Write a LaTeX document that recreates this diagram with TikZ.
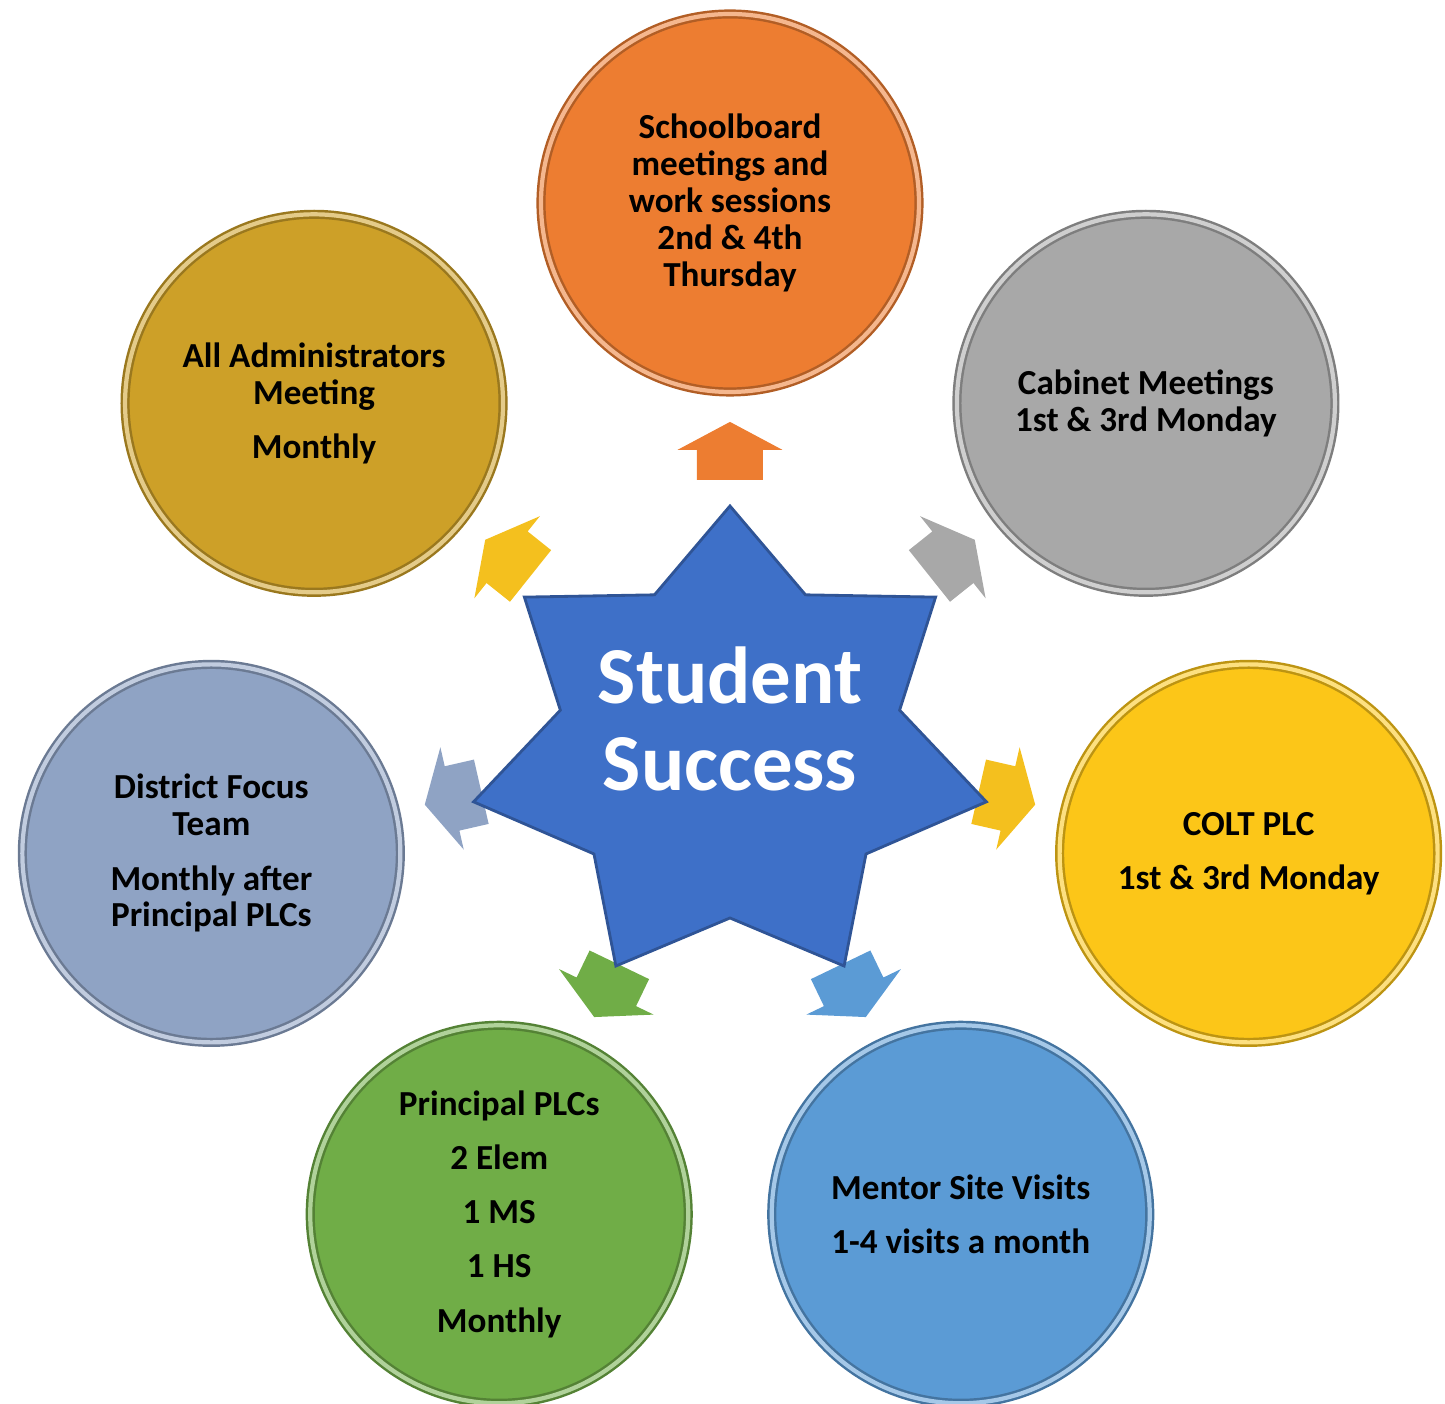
\documentclass[tikz,border=0pt]{standalone}
\usepackage{fontspec}
\setmainfont{Carlito}
\usetikzlibrary{calc}
\definecolor{cOrange}{RGB}{237,125,49}
\definecolor{cGold}{RGB}{205,160,40}
\definecolor{cGray}{RGB}{168,168,168}
\definecolor{cSlate}{RGB}{143,163,196}
\definecolor{cYellow}{RGB}{252,198,24}
\definecolor{cGreen}{RGB}{112,173,71}
\definecolor{cBlue}{RGB}{91,155,213}
\definecolor{cStar}{RGB}{62,112,200}
\definecolor{aYellow}{RGB}{244,192,30}
\tikzset{
  bubble/.style={circle, minimum size=3.78cm, inner sep=0pt, align=center,
    fill=#1, draw=#1!75!black, double=#1!55!white, double distance=1.2pt,
    line width=0.7pt, font=\fontsize{10}{10.5}\selectfont\bfseries},
  hubtext/.style={text=white, align=center, font=\fontsize{23}{25}\selectfont\bfseries},
  outarrow/.pic={\path[pic actions] (-0.29,-0.33) -- (0.01,-0.33) -- (0.01,-0.525)
    -- (0.29,0) -- (0.01,0.525) -- (0.01,0.33) -- (-0.29,0.33) -- cycle;}
}
\begin{document}
\begin{tikzpicture}
  \useasboundingbox (-7.30,-6.69) rectangle (7.15,7.35);
  \coordinate (core) at (0,0);

  \node[bubble=cOrange] (board) at (90:5.32)
  {Schoolboard\\meetings and\\work sessions\\2nd \& 4th\\Thursday};
  \node[bubble=cGold] (admin) at (141.43:5.32)
  {All Administrators\\Meeting\\[4.9pt]Monthly};
  \node[bubble=cGray] (cabinet) at (38.57:5.32)
  {Cabinet Meetings\\1st \& 3rd Monday};
  \node[bubble=cSlate] (focus) at (192.86:5.32)
  {District Focus\\Team\\[4.9pt]Monthly after\\Principal PLCs};
  \node[bubble=cYellow] (colt) at (-12.86:5.32)
  {COLT PLC\\[4.9pt]1st \& 3rd Monday};
  \node[bubble=cGreen] (plc) at (244.29:5.32)
  {Principal PLCs\\[4.9pt]2 Elem\\[4.9pt]1 MS\\[4.9pt]1 HS\\[4.9pt]Monthly};
  \node[bubble=cBlue] (mentor) at (-64.29:5.32)
  {Mentor Site Visits\\[4.9pt]1-4 visits a month};

  \pic[fill=cOrange, rotate=90] at ($(core)!0.534!(board)$) {outarrow};
  \pic[fill=aYellow, rotate=141.43] at ($(core)!0.534!(admin)$) {outarrow};
  \pic[fill=cGray, rotate=38.57] at ($(core)!0.534!(cabinet)$) {outarrow};
  \pic[fill=cSlate, rotate=192.86] at ($(core)!0.534!(focus)$) {outarrow};
  \pic[fill=aYellow, rotate=-12.86] at ($(core)!0.534!(colt)$) {outarrow};
  \pic[fill=cGreen, rotate=244.29] at ($(core)!0.534!(plc)$) {outarrow};
  \pic[fill=cBlue, rotate=-64.29] at ($(core)!0.534!(mentor)$) {outarrow};

  \begin{scope}[shift={(0,-0.13)}]
    \path[fill=cStar, draw=cStar!75!black, line width=0.8pt] (90:2.63cm and 2.42cm)
      \foreach \k [evaluate=\k as \rx using {isodd(\k) ? 1.74 : 2.63},
                   evaluate=\k as \ry using {isodd(\k) ? 1.70 : 2.42}] in {1,...,13}
      { -- ({90+\k*180/7}:\rx cm and \ry cm) } -- cycle;
  \end{scope}
  \node[hubtext] (hub) at (0,0.16) {Student\\Success};
\end{tikzpicture}
\end{document}
